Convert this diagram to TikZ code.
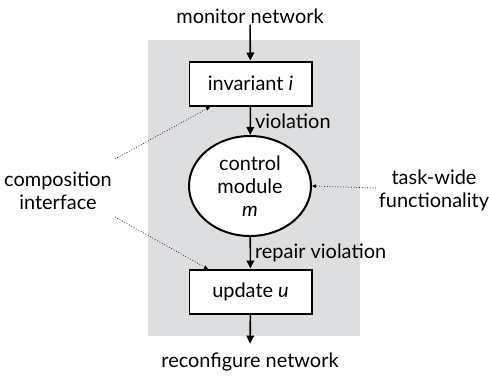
\documentclass[tikz,border=0pt]{standalone}
\usepackage{fontspec}
\setmainfont{Lato}
\usetikzlibrary{shapes.geometric,arrows.meta}

\definecolor{panelgray}{RGB}{221,222,224}

\tikzset{
  box/.style={draw,line width=2pt,fill=white,minimum width=122bp,minimum height=44bp,inner sep=0pt},
  module/.style={draw,ellipse,line width=2pt,fill=white,minimum width=122bp,minimum height=100bp,inner sep=0pt,align=center},
  flow/.style={line width=1.6pt,-{Triangle[length=8bp,width=7.5bp]}},
  hint/.style={dotted,line width=0.7pt,-{Triangle[length=4bp,width=3.5bp]}},
  lbl/.style={align=center,inner sep=1pt}
}

\begin{document}
\begin{tikzpicture}[x=1bp,y=-1bp,font=\fontsize{20}{23}\selectfont]
  \useasboundingbox (0,0) rectangle (489,375);

  \fill[panelgray] (148,40) rectangle (360,336);

  \node[lbl] (mon) at (250,16) {monitor network};
  \node[box] (inv) at (250.5,83.5) {invariant \textit{i}};
  \node[module] (ctrl) at (250,186) {control\\module\\\textit{m}};
  \node[box] (upd) at (250.5,291.5) {update \textit{u}};
  \node[lbl] (rec) at (250,362) {reconfigure network};

  \node[lbl] (comp) at (58,191) {composition\\interface};
  \node[lbl] (task) at (434,190) {task-wide\\functionality};

  \coordinate (c1) at (115,159);
  \coordinate (c2) at (115,217);
  \coordinate (t1) at (376,188);

  \draw[flow] (mon) -- (inv);
  \draw[flow] (inv) -- (ctrl) node[midway,right,inner sep=4pt] {violation};
  \draw[flow] (ctrl) -- (upd) node[midway,right,inner sep=4pt] {repair violation};
  \draw[flow,shorten >=8bp] (upd) -- (rec);

  \draw[hint] (c1) -- (210,107);
  \draw[hint] (c2) -- (208,269);
  \draw[hint] (t1) -- (ctrl.east);
\end{tikzpicture}
\end{document}
